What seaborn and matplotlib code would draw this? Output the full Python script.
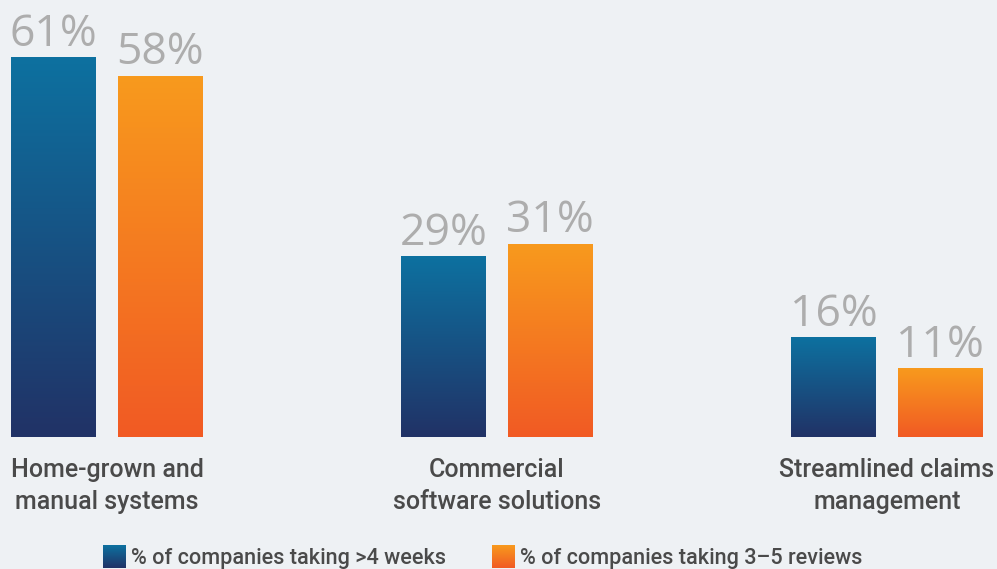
import numpy as np
import pandas as pd
import seaborn as sns
import matplotlib
matplotlib.use("Agg")
import matplotlib.pyplot as plt
from matplotlib.colors import LinearSegmentedColormap

categories = ["Home-grown and\nmanual systems", "Commercial\nsoftware solutions", "Streamlined claims\nmanagement"]
series_names = ["% of companies taking >4 weeks", "% of companies taking 3\u20135 reviews"]
weeks_values = [61, 29, 16]
reviews_values = [58, 31, 11]

BG = "#eef1f4"
blue_cmap = LinearSegmentedColormap.from_list("b", ["#213266", "#0d71a0"])
orange_cmap = LinearSegmentedColormap.from_list("o", ["#f15a24", "#f89a1d"])

df = pd.DataFrame({
    "category": categories * 2,
    "series": [series_names[0]] * 3 + [series_names[1]] * 3,
    "value": weeks_values + reviews_values,
})

sns.set_theme(style="white")
plt.rcParams["font.family"] = ["Roboto", "DejaVu Sans"]

W, H = 997, 569
fig = plt.figure(figsize=(W / 100, H / 100), dpi=100, facecolor=BG)
base_px = 437
ax = fig.add_axes([0, (H - base_px) / H, 1, base_px / H])
ax.set_facecolor(BG)

sns.barplot(data=df, x="category", y="value", hue="series", order=categories,
            hue_order=series_names, palette=["#0d71a0", "#f89a1d"],
            width=0.546, gap=0.202, ax=ax, legend=False, saturation=1)

px_per_unit = 390
grad = np.linspace(0, 1, 256).reshape(-1, 1)
for i, patch in enumerate(ax.patches):
    x, y = patch.get_x(), patch.get_y()
    w, h = patch.get_width(), patch.get_height()
    if h <= 0:
        continue
    cmap = blue_cmap if i < 3 else orange_cmap
    patch.set_visible(False)
    ax.imshow(grad, extent=[x, x + w, y, y + h], origin="lower", aspect="auto",
              cmap=cmap, zorder=2)
    ax.annotate(f"{int(round(h))}%", (x + w / 2, y + h), xytext=(0, 8.5),
                textcoords="offset points", ha="center", va="baseline",
                fontsize=32, color="#adadad", family=["Open Sans", "DejaVu Sans"])

ax.set_xlim(-107 / px_per_unit, (W - 107) / px_per_unit)
ax.set_ylim(0, base_px / 6.22)
ax.set_xlabel("")
ax.set_ylabel("")
ax.set_yticks([])
ax.tick_params(axis="x", length=0, pad=15)
for lbl in ax.get_xticklabels():
    lbl.set_fontsize(18)
    lbl.set_color("#4a4a4a")
    lbl.set_linespacing(1.42)
    lbl.set_fontweight(500)
for s in ax.spines.values():
    s.set_visible(False)

# legend
legend_items = [(103, series_names[0], blue_cmap), (492, series_names[1], orange_cmap)]
for lx, txt, cmap in legend_items:
    sq = fig.add_axes([lx / W, (H - 568) / H, 23 / W, 23 / H])
    sq.imshow(grad, origin="lower", aspect="auto", cmap=cmap)
    sq.axis("off")
    fig.text((lx + 28) / W, (H - 564) / H, txt, fontsize=15.6, color="#4a4a4a",
             fontweight=500, ha="left", va="baseline")

fig.savefig("out.png", dpi=100, facecolor=BG)
